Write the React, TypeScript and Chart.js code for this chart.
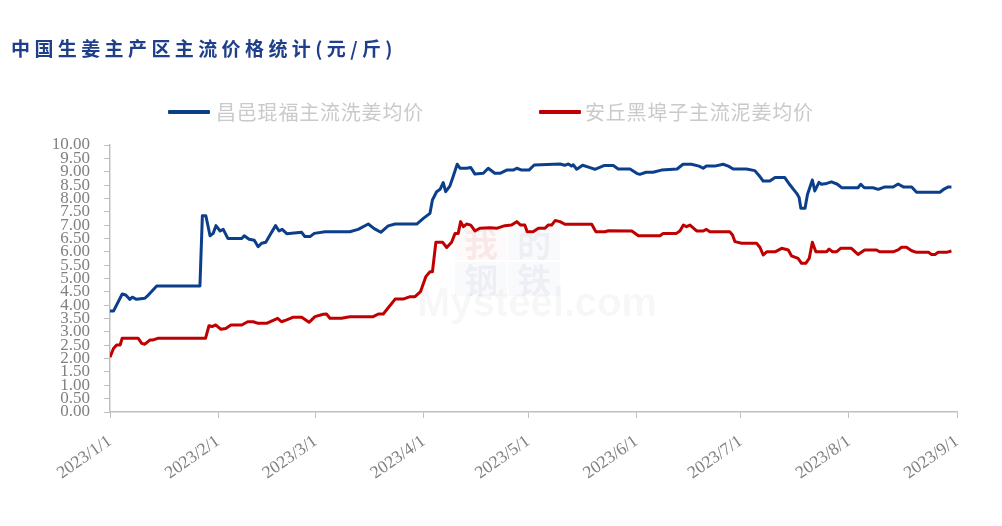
import React, { useEffect, useRef } from "react";
import { Chart, registerables } from "chart.js";

Chart.register(...registerables);

const TITLE = "中国生姜主产区主流价格统计(元/斤)";
const SERIES_NAMES = ["昌邑琨福主流洗姜均价", "安丘黑埠子主流泥姜均价"];
const SERIES_COLORS = ["#0b3f8c", "#c00000"];

// x positions are days counted from 2023/1/1
const MONTH_TICK_DAYS = [0, 31, 59, 90, 120, 151, 181, 212, 243];
const MONTH_TICK_LABELS = [
  "2023/1/1", "2023/2/1", "2023/3/1", "2023/4/1", "2023/5/1",
  "2023/6/1", "2023/7/1", "2023/8/1", "2023/9/1",
];

const blueDays = [
  0, 1, 3.5, 4.5, 5.7, 6.4, 7.6, 10, 11, 13.4, 25.8, 26.5, 27.5, 28.7, 29.6, 30.4, 31.6, 32.5, 33.8,
  37.8, 38.5, 39.9, 41.4, 42.5, 43.5, 44.7, 45.9, 47.5, 48.5, 49.4, 50.7, 55, 55.9, 57.4, 58.6, 61.7,
  68.8, 71.2, 74.1, 75.8, 77.7, 79.8, 81.8, 88, 89.9, 91.8, 92.5, 93.7, 94.7, 95.6, 96.3, 97.5, 98.5,
  99.6, 100.4, 102.3, 103.5, 104.7, 107.1, 108.5, 110.4, 111.9, 113.8, 115.7, 116.7, 118.1, 120.2,
  121.7, 129.1, 130.5, 131.5, 132.4, 132.9, 133.9, 135.6, 137.5, 139.1, 141.7, 144.4, 145.8, 149.2,
  151.1, 152, 153.8, 155.8, 158.2, 162.7, 164.4, 166.8, 169, 170.2, 171.1, 173.5, 175.9, 177.4, 178.8,
  182.6, 185, 186.5, 187.4, 189.3, 190.8, 193.6, 195.1, 197, 197.7, 198.2, 199.4, 200.1, 201.5, 202.2,
  203.4, 204.1, 205.6, 207, 208.7, 209.9, 214.6, 215.4, 216.4, 218.9, 220.4, 222.3, 224.7, 226.1,
  227.6, 230, 231.4, 238.1, 239.3, 240.5, 241.4,
];
const blueValues = [
  3.78, 3.78, 4.42, 4.38, 4.22, 4.3, 4.22, 4.26, 4.38, 4.72, 4.72, 7.35, 7.35, 6.6, 6.69, 6.98, 6.78, 6.84, 6.5,
  6.5, 6.6, 6.47, 6.43, 6.19, 6.32, 6.36, 6.63, 6.98, 6.78, 6.84, 6.68, 6.73, 6.57, 6.57, 6.69, 6.75,
  6.75, 6.84, 7.04, 6.87, 6.73, 6.97, 7.04, 7.04, 7.25, 7.44, 7.94, 8.25, 8.34, 8.59, 8.25, 8.46, 8.84,
  9.28, 9.13, 9.13, 9.16, 8.91, 8.94, 9.13, 8.94, 8.94, 9.06, 9.06, 9.13, 9.06, 9.06,
  9.25, 9.29, 9.24, 9.29, 9.21, 9.26, 9.09, 9.24, 9.16, 9.09, 9.23, 9.23, 9.1, 9.1,
  8.94, 8.9, 8.98, 8.98, 9.06, 9.1, 9.28, 9.28, 9.21, 9.13, 9.21, 9.21, 9.28, 9.21, 9.1,
  9.1, 9.04, 8.81, 8.65, 8.65, 8.78, 8.78, 8.5, 8.19, 8.03, 7.63, 7.63, 8.15, 8.69, 8.28,
  8.6, 8.53, 8.56, 8.62, 8.53, 8.4, 8.4, 8.53, 8.4, 8.4, 8.34, 8.43, 8.43, 8.54,
  8.43, 8.43, 8.23, 8.23, 8.35, 8.43, 8.43,
];

const redDays = [
  0, 1, 1.9, 2.9, 3.5, 8.1, 9.1, 10, 11.5, 12.4, 13.7, 27.4, 28.4, 29.3, 30.3, 31.8, 33.2, 34.7, 37.8,
  39.5, 41.1, 42.5, 44.9, 48.1, 49.2, 50.7, 52.6, 55, 57.1, 58.8, 61.2, 62.1, 63.1, 66.4, 68.8, 75.5,
  77, 78.4, 81.8, 84.1, 86.1, 87.5, 89.1, 90.6, 91.8, 92.5, 93.5, 95.4, 96.6, 98, 99, 99.9, 100.6,
  101.4, 102.3, 103.5, 104.7, 106.1, 109, 110.9, 113.3, 115.2, 116.7, 117.8, 119, 119.7, 121.4, 122.9,
  124.8, 125.7, 126.7, 127.7, 129.1, 130.5, 138.2, 139.4, 142, 143, 149.7, 151.6, 157.8, 158.7, 162.5,
  163.5, 164.5, 165.4, 166.4, 168.3, 170.2, 171.1, 172.1, 177.8, 178.6, 179.3, 181.2, 185.5, 186.5,
  187.4, 188.4, 190.8, 192.7, 194.6, 195.5, 197.4, 198.4, 199.6, 200.6, 201.5, 202.5, 205.6, 206.3,
  207.3, 208.4, 209.6, 212.7, 214.6, 216.5, 219.9, 220.8, 224.7, 226.1, 227.1, 228.5, 230, 231.4,
  234.8, 235.7, 236.7, 237.6, 240, 241.4,
];
const redValues = [
  2.05, 2.38, 2.51, 2.51, 2.76, 2.76, 2.57, 2.54, 2.7, 2.7, 2.76, 2.76, 3.23, 3.2, 3.26, 3.1, 3.13, 3.26, 3.26,
  3.38, 3.38, 3.32, 3.32, 3.51, 3.38, 3.45, 3.55, 3.55, 3.36, 3.57, 3.66, 3.67, 3.51, 3.51, 3.57, 3.57,
  3.67, 3.67, 4.23, 4.23, 4.32, 4.32, 4.51, 5.07, 5.25, 5.25, 6.36, 6.36, 6.16, 6.36, 6.69, 6.69, 7.13,
  6.94, 7.04, 7.0, 6.78, 6.88, 6.9, 6.88, 6.98, 7.0, 7.13, 7.0, 7.0, 6.75, 6.75, 6.88,
  6.88, 7.0, 7.0, 7.17, 7.13, 7.03, 7.03, 6.75, 6.75, 6.79, 6.78, 6.6, 6.6, 6.69, 6.69,
  6.78, 7.0, 6.94, 7.0, 6.78, 6.78, 6.84, 6.75, 6.75, 6.63, 6.38, 6.32, 6.32, 6.16,
  5.88, 6.0, 6.0, 6.13, 6.07, 5.85, 5.75, 5.57, 5.57, 5.75, 6.36, 6.0, 6.0, 6.1,
  6.0, 6.0, 6.13, 6.13, 5.9, 6.07, 6.07, 6.0, 6.0, 6.07, 6.17, 6.17, 6.04, 5.98,
  5.98, 5.9, 5.9, 5.98, 5.98, 6.03,
];

const Y_MIN = 0;
const Y_MAX = 10;
const Y_STEP = 0.5;

const AXIS_GRAY = "#bfbfbf";
const TICK_TEXT = "#808080";

export default function App() {
  const canvasRef = useRef<HTMLCanvasElement | null>(null);

  useEffect(() => {
    const canvas = canvasRef.current;
    if (!canvas) return;
    const toPoints = (days: number[], vals: number[]) =>
      days.map((d, i) => ({ x: d, y: vals[i] }));

    const chart = new Chart(canvas, {
      type: "line",
      data: {
        datasets: [
          {
            label: SERIES_NAMES[0],
            data: toPoints(blueDays, blueValues),
            borderColor: SERIES_COLORS[0],
            backgroundColor: SERIES_COLORS[0],
            borderWidth: 3,
            pointRadius: 0,
            tension: 0,
            borderJoinStyle: "round",
          },
          {
            label: SERIES_NAMES[1],
            data: toPoints(redDays, redValues),
            borderColor: SERIES_COLORS[1],
            backgroundColor: SERIES_COLORS[1],
            borderWidth: 3,
            pointRadius: 0,
            tension: 0,
            borderJoinStyle: "round",
          },
        ],
      },
      options: {
        animation: false,
        responsive: false,
        maintainAspectRatio: false,
        layout: { padding: { top: 145, right: 45, bottom: 0, left: 0 } },
        plugins: {
          legend: { display: false },
          title: { display: false },
          tooltip: { enabled: false },
        },
        scales: {
          x: {
            type: "linear",
            min: MONTH_TICK_DAYS[0],
            max: MONTH_TICK_DAYS[MONTH_TICK_DAYS.length - 1],
            afterBuildTicks: (scale: any) => {
              scale.ticks = MONTH_TICK_DAYS.map((v) => ({ value: v }));
            },
            afterFit: (scale: any) => {
              scale.height = 114;
            },
            ticks: {
              autoSkip: false,
              minRotation: 35,
              maxRotation: 35,
              padding: 13,
              color: TICK_TEXT,
              font: { family: "'Liberation Serif', serif", size: 17.5 },
              callback: (_v: any, i: number) => MONTH_TICK_LABELS[i],
            },
            grid: { drawOnChartArea: false, drawTicks: true, tickLength: 6, color: AXIS_GRAY, lineWidth: 1 },
            border: { display: true, color: AXIS_GRAY, width: 1.5 },
          },
          y: {
            min: Y_MIN,
            max: Y_MAX,
            afterFit: (scale: any) => {
              scale.width = 110;
            },
            ticks: {
              stepSize: Y_STEP,
              autoSkip: false,
              padding: 14,
              color: TICK_TEXT,
              font: { family: "'Liberation Serif', serif", size: 17 },
              callback: (v: any) => Number(v).toFixed(2),
            },
            grid: { drawOnChartArea: false, drawTicks: true, tickLength: 6, color: AXIS_GRAY, lineWidth: 1 },
            border: { display: true, color: AXIS_GRAY, width: 1.5 },
          },
        },
      },
    });
    return () => chart.destroy();
  }, []);

  const legendText: React.CSSProperties = {
    position: "absolute",
    top: 100,
    fontFamily: "'Noto Sans CJK SC', sans-serif",
    fontSize: 20,
    letterSpacing: 0.8,
    color: "#cacaca",
    lineHeight: "24px",
    whiteSpace: "nowrap",
  };
  const legendLine = (color: string, left: number): React.CSSProperties => ({
    position: "absolute",
    left,
    top: 110,
    width: 42,
    height: 4,
    background: color,
    borderRadius: 1,
  });
  const wmCell = (left: number, top: number, color: string, bg: string): React.CSSProperties => ({
    position: "absolute",
    left,
    top,
    width: 52,
    height: 34,
    background: bg,
    color,
    fontFamily: "'Noto Sans CJK SC', sans-serif",
    fontWeight: 700,
    fontSize: 34,
    lineHeight: "34px",
    textAlign: "center",
  });

  return (
    <div style={{ position: "absolute", left: 0, top: 0, width: 1002, height: 526, background: "#fff", overflow: "hidden" }}>
      {/* faint watermark behind the chart */}
      <div style={wmCell(455, 226, "rgba(220,60,60,0.10)", "rgba(230,80,80,0.03)")}>我</div>
      <div style={wmCell(508, 226, "rgba(60,80,150,0.07)", "rgba(60,80,150,0.03)")}>的</div>
      <div style={wmCell(455, 262, "rgba(60,80,150,0.07)", "rgba(60,80,150,0.03)")}>钢</div>
      <div style={wmCell(508, 262, "rgba(60,80,150,0.07)", "rgba(60,80,150,0.03)")}>铁</div>
      <div
        style={{
          position: "absolute",
          left: 417,
          top: 280,
          fontFamily: "'Liberation Sans', Arial, sans-serif",
          fontWeight: 700,
          fontSize: 40,
          lineHeight: "44px",
          color: "rgba(0,0,0,0.045)",
          whiteSpace: "nowrap",
        }}
      >
        Mysteel.com
      </div>
      <canvas ref={canvasRef} width={1002} height={526} style={{ position: "absolute", left: 0, top: 0 }} />
      <div
        style={{
          position: "absolute",
          left: 11,
          top: 35,
          fontFamily: "'Noto Sans CJK SC', sans-serif",
          fontWeight: 700,
          fontSize: 19,
          letterSpacing: 4.4,
          color: "#1f3f8a",
          whiteSpace: "nowrap",
          lineHeight: "26px",
        }}
      >
        {TITLE}
      </div>
      <div style={legendLine(SERIES_COLORS[0], 168)} />
      <div style={{ ...legendText, left: 216 }}>{SERIES_NAMES[0]}</div>
      <div style={legendLine(SERIES_COLORS[1], 539)} />
      <div style={{ ...legendText, left: 585 }}>{SERIES_NAMES[1]}</div>
    </div>
  );
}
